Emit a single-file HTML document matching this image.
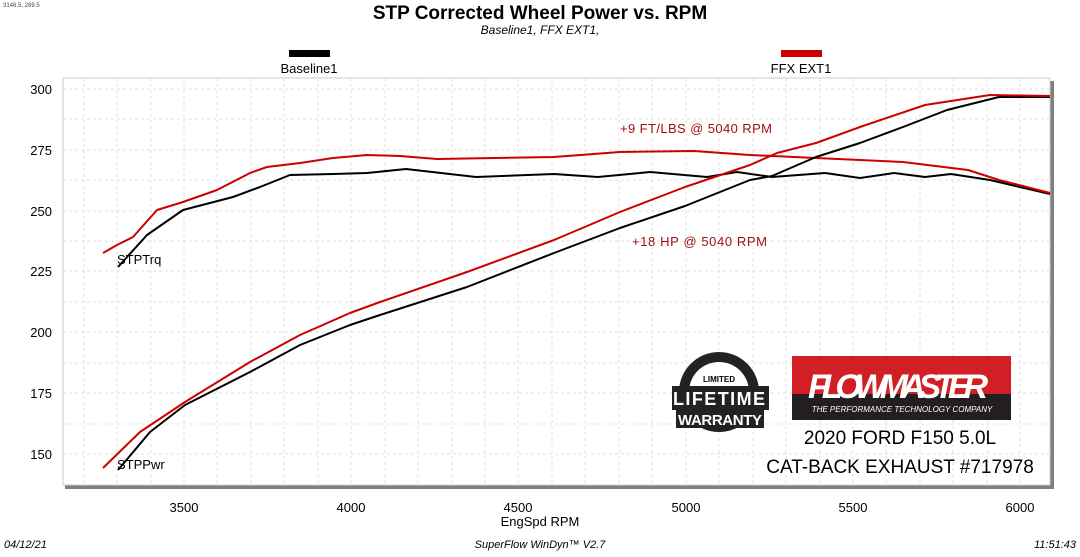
<!DOCTYPE html>
<html><head><meta charset="utf-8"><style>
body{margin:0;background:#fff;width:1080px;height:552px;overflow:hidden;font-family:"Liberation Sans",sans-serif}
</style></head><body>
<svg width="1080" height="552" xmlns="http://www.w3.org/2000/svg" font-family="Liberation Sans, sans-serif">
<text x="3" y="7" font-size="6" fill="#444">3146.5, 289.5</text>
<text x="540" y="19" font-size="19" font-weight="bold" text-anchor="middle">STP Corrected Wheel Power vs. RPM</text>
<text x="540" y="34" font-size="12" font-style="italic" text-anchor="middle">Baseline1, FFX EXT1,</text>
<rect x="289" y="50" width="41" height="7" fill="#000"/>
<text x="309" y="73" font-size="13" text-anchor="middle">Baseline1</text>
<rect x="781" y="50" width="41" height="7" fill="#c00"/>
<text x="801" y="73" font-size="13" text-anchor="middle">FFX EXT1</text>
<rect x="65" y="81" width="989" height="408" fill="#7f7f7f"/>
<rect x="63" y="78" width="987" height="407" fill="#fff" stroke="#ccc" stroke-width="1"/>
<g stroke="#e2e2e2" stroke-width="1" stroke-dasharray="3,3">
<path d="M84 78V485M117 78V485M151 78V485M184 78V485M217 78V485M251 78V485M284 78V485M318 78V485M351 78V485M385 78V485M418 78V485M452 78V485M485 78V485M518 78V485M552 78V485M585 78V485M619 78V485M652 78V485M686 78V485M719 78V485M753 78V485M786 78V485M820 78V485M853 78V485M886 78V485M920 78V485M953 78V485M987 78V485M1020 78V485"/>
<path d="M63 89H1050M63 119H1050M63 150H1050M63 180H1050M63 211H1050M63 241H1050M63 271H1050M63 302H1050M63 332H1050M63 363H1050M63 393H1050M63 424H1050M63 454H1050"/>
</g>
<g font-size="13" fill="#000">
<text x="52" y="94" text-anchor="end">300</text>
<text x="52" y="155" text-anchor="end">275</text>
<text x="52" y="216" text-anchor="end">250</text>
<text x="52" y="276" text-anchor="end">225</text>
<text x="52" y="337" text-anchor="end">200</text>
<text x="52" y="398" text-anchor="end">175</text>
<text x="52" y="459" text-anchor="end">150</text>
<text x="184" y="512" text-anchor="middle">3500</text>
<text x="351" y="512" text-anchor="middle">4000</text>
<text x="518" y="512" text-anchor="middle">4500</text>
<text x="686" y="512" text-anchor="middle">5000</text>
<text x="853" y="512" text-anchor="middle">5500</text>
<text x="1020" y="512" text-anchor="middle">6000</text>
<text x="540" y="526" text-anchor="middle">EngSpd  RPM</text>
</g>
<text x="4" y="548" font-size="11" font-style="italic">04/12/21</text>
<text x="540" y="548" font-size="11" font-style="italic" text-anchor="middle">SuperFlow WinDyn™  V2.7</text>
<text x="1076" y="548" font-size="11" font-style="italic" text-anchor="end">11:51:43</text>
<g fill="none" stroke-width="2" stroke-linejoin="round">
<polyline stroke="#000" points="118,267 147,235 183,210 233,197 260,187 290,175 333,174 367,173 406,169 476,177 554,174 598,177 650,172 707,177 737,172 772,177 825,173 860,178 894,173 925,177 951,174 990,180 1050,194"/>
<polyline stroke="#c00" points="103,253 117,245 133,237 157,210 183,202 217,190 250,173 267,167 300,163 333,158 367,155 400,156 437,159 554,157 620,152 694,151 750,155 816,158 903,162 968,170 999,180 1050,193"/>
<polyline stroke="#000" points="118,470 150,432 185,405 250,372 300,345 350,325 380,315 467,287 554,253 620,228 685,206 750,180 772,176 816,157 860,143 903,127 947,110 999,97 1034,97 1050,97"/>
<polyline stroke="#c00" points="103,468 140,432 185,402 250,362 300,335 350,313 380,302 467,272 554,240 620,212 685,187 750,165 777,153 816,143 860,127 925,105 990,95 1050,96"/>
</g>
<text x="117" y="264" font-size="13">STPTrq</text>
<text x="117" y="469" font-size="13">STPPwr</text>
<text x="620" y="133" font-size="13" fill="#a01010" textLength="152">+9 FT/LBS @ 5040 RPM</text>
<text x="632" y="246" font-size="13" fill="#a01010" textLength="135">+18 HP @ 5040 RPM</text>
<circle cx="719" cy="392" r="40" fill="#222"/>
<circle cx="719" cy="392" r="30" fill="#fff"/>
<rect x="672" y="386" width="97" height="24" fill="#222"/>
<text x="719" y="405" font-size="18" font-weight="bold" fill="#fff" text-anchor="middle" textLength="92">LIFETIME</text>
<text x="719" y="382" font-size="8" font-weight="bold" text-anchor="middle">LIMITED</text>
<rect x="676" y="410" width="88" height="18" fill="#222"/>
<text x="720" y="425" font-size="15" font-weight="bold" fill="#fff" text-anchor="middle" textLength="84">WARRANTY</text>
<rect x="792" y="356" width="219" height="64" fill="#231f20"/>
<rect x="792" y="356" width="219" height="38" fill="#d21f26"/>
<text x="898" y="398" font-size="34" font-weight="bold" font-style="italic" fill="#fff" text-anchor="middle" textLength="180">FLOWMASTER</text>
<text x="902" y="412" font-size="8" font-style="italic" fill="#fff" text-anchor="middle">THE PERFORMANCE TECHNOLOGY COMPANY</text>
<text x="900" y="444" font-size="19" text-anchor="middle">2020 FORD F150 5.0L</text>
<text x="900" y="473" font-size="19" text-anchor="middle">CAT-BACK EXHAUST #717978</text>
</svg>
</body></html>
